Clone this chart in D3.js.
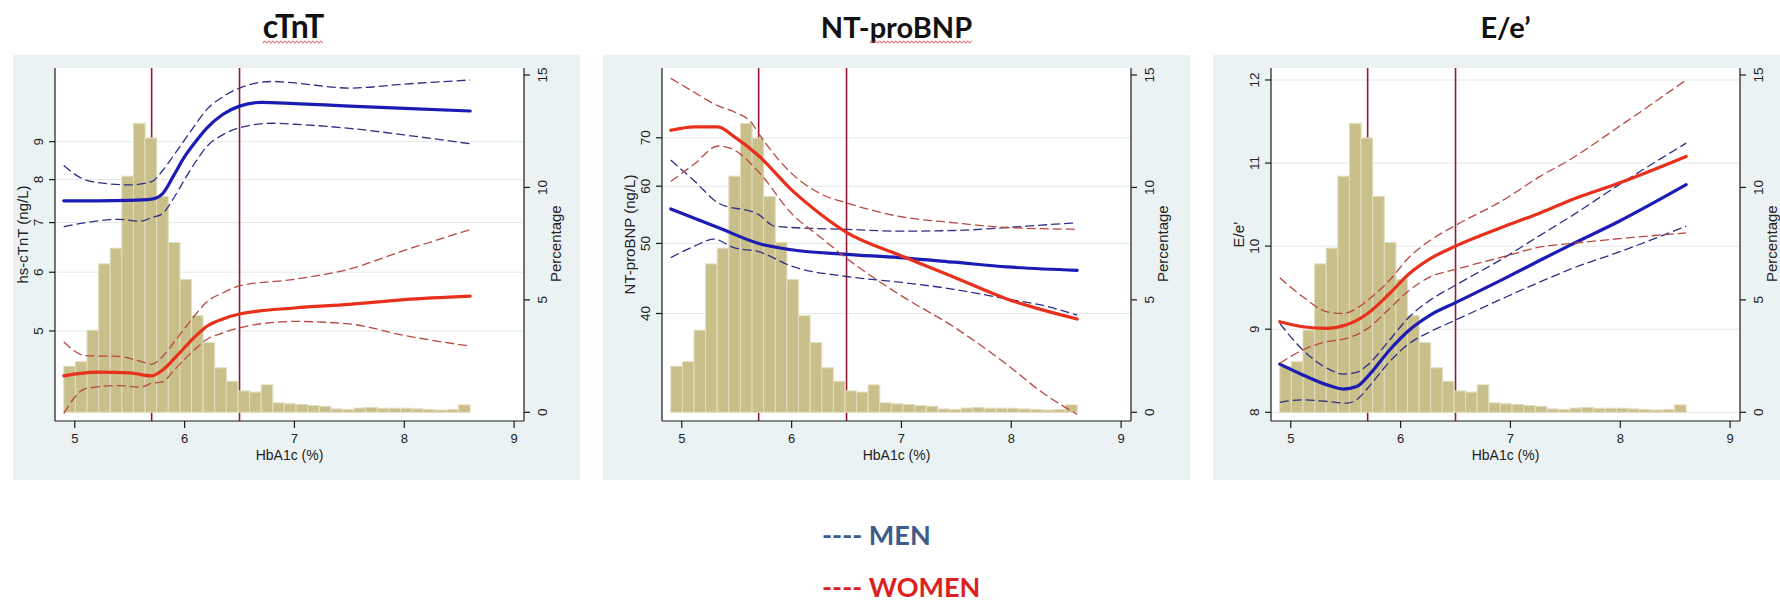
<!DOCTYPE html>
<html>
<head>
<meta charset="utf-8">
<script src="https://cdn.jsdelivr.net/npm/d3@7"></script>
<style>
  html, body { margin: 0; padding: 0; background: #ffffff; }
  svg { display: block; }
</style>
</head>
<body>
<svg id="chart" width="1780" height="606"></svg>
<script>
// ---------------- DATA ----------------
const panelTitles = ["cTnT", "NT-proBNP", "E/e\u2019"];
const yAxisTitles = ["hs-cTnT (ng/L)", "NT-proBNP (ng/L)", "E/e\u2019"];
const xAxisTitle = "HbA1c (%)";
const rightAxisTitle = "Percentage";
const xTicks = [5, 6, 7, 8, 9];
const pctTicks = [0, 5, 10, 15];
const cutoffs = [5.7, 6.5];

const ctntTicks = [5, 6, 7, 8, 9];
const bnpTicks = [40, 50, 60, 70];
const eeTicks = [8, 9, 10, 11, 12];

// HbA1c distribution (percentage per bin), 35 bins from 4.9 to 8.6
const histStart = 4.9, histEnd = 8.6;
const histPct = [2.05, 2.25, 3.65, 6.6, 7.3, 10.5, 12.85, 12.2, 9.6, 7.55, 5.9, 4.3, 3.1, 1.98, 1.38,
  0.95, 0.9, 1.22, 0.42, 0.38, 0.35, 0.3, 0.27, 0.15, 0.12, 0.19, 0.22, 0.18, 0.18, 0.18, 0.15, 0.12, 0.1, 0.12, 0.33];

// cTnT panel
const ctntMenFit = [[4.9,7.49],[5.2,7.49],[5.5,7.5],[5.7,7.53],[5.8,7.66],[5.9,8.1],[6.0,8.59],[6.1,9.0],[6.2,9.38],[6.35,9.8],[6.5,10.05],[6.7,10.17],[7.0,10.13],[7.5,10.05],[8.0,9.98],[8.6,9.9]];
const ctntMenUp = [[4.9,8.36],[5.05,8.05],[5.2,7.93],[5.5,7.87],[5.7,7.95],[5.8,8.23],[5.9,8.62],[6.0,9.05],[6.1,9.5],[6.2,9.94],[6.35,10.35],[6.5,10.63],[6.8,10.85],[7.0,10.8],[7.5,10.63],[8.0,10.76],[8.6,10.9]];
const ctntMenLo = [[4.9,6.91],[5.1,7.0],[5.4,7.07],[5.6,7.03],[5.7,7.11],[5.8,7.2],[5.9,7.55],[6.0,8.0],[6.1,8.45],[6.2,8.86],[6.35,9.2],[6.5,9.4],[6.8,9.53],[7.0,9.5],[7.5,9.38],[8.0,9.19],[8.6,8.94]];
const ctntWomenFit = [[4.9,4.35],[5.2,4.4],[5.5,4.39],[5.7,4.35],[5.8,4.43],[5.9,4.58],[6.0,4.75],[6.1,4.92],[6.2,5.07],[6.35,5.19],[6.5,5.27],[7.0,5.37],[7.5,5.43],[8.0,5.51],[8.6,5.57]];
const ctntWomenUp = [[4.9,4.83],[5.1,4.63],[5.4,4.62],[5.6,4.55],[5.7,4.51],[5.8,4.62],[5.9,4.82],[6.0,5.04],[6.1,5.26],[6.2,5.47],[6.35,5.63],[6.5,5.75],[7.0,5.87],[7.5,6.06],[8.0,6.42],[8.6,6.85]];
const ctntWomenLo = [[4.9,3.87],[5.1,4.18],[5.4,4.22],[5.6,4.2],[5.7,4.25],[5.8,4.27],[5.9,4.42],[6.0,4.58],[6.1,4.73],[6.2,4.87],[6.35,4.97],[6.5,5.05],[7.0,5.15],[7.5,5.11],[8.0,4.93],[8.6,4.77]];

// NT-proBNP panel
const bnpMenFit = [[4.9,55.8],[5.33,52.6],[5.7,50.0],[6.0,49.0],[6.5,48.3],[6.98,47.8],[7.48,47.1],[7.96,46.4],[8.6,45.9]];
const bnpMenUp = [[4.9,65.2],[5.12,60.9],[5.33,56.9],[5.7,54.8],[5.85,52.8],[6.0,52.6],[6.5,52.3],[6.98,52.0],[7.48,52.1],[7.96,52.6],[8.27,53.0],[8.6,53.4]];
const bnpMenLo = [[4.9,47.8],[5.12,49.6],[5.29,50.7],[5.48,49.3],[5.7,48.7],[6.0,46.5],[6.5,45.0],[6.98,44.2],[7.48,43.2],[7.96,41.9],[8.27,41.1],[8.6,39.8]];
const bnpWomenFit = [[4.9,71.7],[5.12,72.5],[5.33,72.5],[5.48,70.2],[5.7,66.1],[6.0,59.3],[6.27,54.8],[6.5,51.8],[6.98,48.2],[7.48,44.9],[7.96,41.9],[8.6,39.3]];
const bnpWomenUp = [[4.9,84.6],[5.12,80.8],[5.33,77.5],[5.48,76.0],[5.64,73.3],[5.7,71.0],[6.0,62.5],[6.27,58.5],[6.5,56.9],[6.98,54.5],[7.48,53.4],[7.96,52.6],[8.6,52.3]];
const bnpWomenLo = [[4.9,60.9],[5.12,64.5],[5.33,68.2],[5.48,67.3],[5.7,62.8],[6.0,55.0],[6.27,50.9],[6.5,47.7],[6.98,42.5],[7.48,38.3],[7.96,34.0],[8.27,31.2],[8.6,29.0]];

// E/e' panel
const eeMenFit = [[4.9,8.58],[5.11,8.45],[5.33,8.33],[5.48,8.28],[5.6,8.31],[5.7,8.43],[5.9,8.75],[6.08,8.99],[6.27,9.17],[6.5,9.32],[6.93,9.6],[7.27,9.83],[7.54,10.01],[7.99,10.3],[8.6,10.74]];
const eeMenUp = [[4.9,9.07],[5.11,8.75],[5.33,8.53],[5.48,8.46],[5.6,8.48],[5.7,8.57],[5.9,8.87],[6.08,9.15],[6.27,9.35],[6.5,9.53],[6.93,9.85],[7.27,10.13],[7.54,10.35],[7.99,10.74],[8.6,11.24]];
const eeMenLo = [[4.9,8.12],[5.11,8.15],[5.33,8.13],[5.51,8.11],[5.6,8.15],[5.7,8.29],[5.9,8.61],[6.08,8.83],[6.27,8.97],[6.5,9.11],[6.93,9.37],[7.27,9.57],[7.54,9.72],[7.99,9.93],[8.6,10.24]];
const eeWomenFit = [[4.9,9.09],[5.11,9.03],[5.33,9.01],[5.5,9.05],[5.7,9.19],[5.9,9.43],[6.08,9.67],[6.27,9.85],[6.5,10.0],[6.93,10.23],[7.27,10.4],[7.54,10.55],[7.99,10.76],[8.6,11.08]];
const eeWomenUp = [[4.9,9.62],[5.11,9.39],[5.33,9.21],[5.48,9.19],[5.6,9.25],[5.7,9.35],[5.9,9.59],[6.08,9.87],[6.27,10.07],[6.5,10.25],[6.93,10.55],[7.27,10.84],[7.54,11.04],[7.99,11.44],[8.6,12.0]];
const eeWomenLo = [[4.9,8.59],[5.11,8.75],[5.33,8.85],[5.51,8.89],[5.7,9.01],[5.9,9.25],[6.08,9.47],[6.27,9.63],[6.5,9.72],[6.93,9.87],[7.27,9.99],[7.54,10.03],[7.99,10.09],[8.6,10.16]];

const legendLabels = ["MEN", "WOMEN"];

// ---------------- LAYOUT / STYLE ----------------
const svg = d3.select("#chart");
const FONT = "'Liberation Sans', Arial, Helvetica, sans-serif";
const TITLEFONT = "Lato, 'Open Sans', sans-serif";
const C = {
  bg: "#eaf2f3", grid: "#e3e9ea", axis: "#1a1a1a", text: "#222",
  bar: "#c9bf8a", barEdge: "#e3ddbf",
  vline: "#8e1b35",
  menFit: "#1c1cb4", menCI: "#2e2e86",
  womenFit: "#e8301c", womenCI: "#b84840",
  legMen: "#3e5b8a", legWomen: "#dc1f1f"
};

const plotTop = 68, axisY = 421, dataBottom = 412.3, dataTop = 75;
const panelW = 469;
const panels = [
  { left: 55, box: [13, 580], yType: "log", yDomain: [3.884, 11.07], yTicks: ctntTicks,
    series: [ctntMenUp, ctntMenLo, ctntMenFit, ctntWomenUp, ctntWomenLo, ctntWomenFit] },
  { left: 662, box: [603, 1190], yType: "log", yDomain: [29.2, 85.5], yTicks: bnpTicks,
    series: [bnpMenUp, bnpMenLo, bnpMenFit, bnpWomenUp, bnpWomenLo, bnpWomenFit] },
  { left: 1271, box: [1213, 1780], yType: "linear", yDomain: [8.0, 12.06], yTicks: eeTicks,
    series: [eeMenUp, eeMenLo, eeMenFit, eeWomenUp, eeWomenLo, eeWomenFit] }
];
const seriesStyle = [
  { color: C.menCI, w: 1.3, dash: "9,4" },
  { color: C.menCI, w: 1.3, dash: "9,4" },
  { color: C.menFit, w: 3.2, dash: null },
  { color: C.womenCI, w: 1.3, dash: "9,4" },
  { color: C.womenCI, w: 1.3, dash: "9,4" },
  { color: C.womenFit, w: 3.2, dash: null }
];

const nBins = histPct.length;
const binW = (histEnd - histStart) / nBins;
const binEdges = histPct.map((_, i) => histStart + i * binW);

panels.forEach((p, pi) => {
  const right = p.left + panelW;
  const g = svg.append("g");

  // panel background
  g.append("rect").attr("x", p.box[0]).attr("y", 55)
    .attr("width", p.box[1] - p.box[0]).attr("height", 425).attr("fill", C.bg);
  // plot region
  g.append("rect").attr("x", p.left).attr("y", plotTop)
    .attr("width", panelW).attr("height", axisY - plotTop).attr("fill", "#fff");

  const x = d3.scaleLinear().domain([4.82, 9.09]).range([p.left, right]);
  const y = (p.yType === "log" ? d3.scaleLog() : d3.scaleLinear())
    .domain(p.yDomain).range([dataBottom, dataTop]);
  const yPct = d3.scaleLinear().domain([0, 15]).range([dataBottom, dataTop]);

  // grid
  g.append("g").selectAll("line").data(p.yTicks).join("line")
    .attr("x1", p.left).attr("x2", right)
    .attr("y1", d => y(d)).attr("y2", d => y(d))
    .attr("stroke", C.grid).attr("stroke-width", 1);

  // cutoff lines
  g.append("g").selectAll("line").data(cutoffs).join("line")
    .attr("x1", d => x(d)).attr("x2", d => x(d))
    .attr("y1", plotTop).attr("y2", axisY)
    .attr("stroke", C.vline).attr("stroke-width", 1.6);

  // histogram
  g.append("g").selectAll("rect").data(histPct).join("rect")
    .attr("x", (d, i) => x(binEdges[i]))
    .attr("width", (d, i) => x(binEdges[i] + binW) - x(binEdges[i]))
    .attr("y", d => yPct(d))
    .attr("height", d => yPct(0) - yPct(d))
    .attr("fill", C.bar).attr("stroke", C.barEdge).attr("stroke-width", 1);

  // curves
  const line = d3.line().x(d => x(d[0])).y(d => y(d[1])).curve(d3.curveMonotoneX);
  p.series.forEach((s, si) => {
    const st = seriesStyle[si];
    g.append("path").datum(s).attr("d", line)
      .attr("fill", "none").attr("stroke", st.color)
      .attr("stroke-width", st.w)
      .attr("stroke-dasharray", st.dash)
      .attr("stroke-linecap", st.dash ? "butt" : "round")
      .attr("stroke-linejoin", "round");
  });

  // axes lines
  const ax = g.append("g").attr("stroke", C.axis).attr("stroke-width", 1.2);
  ax.append("line").attr("x1", p.left).attr("x2", p.left).attr("y1", plotTop).attr("y2", axisY);
  ax.append("line").attr("x1", right).attr("x2", right).attr("y1", plotTop).attr("y2", axisY);
  ax.append("line").attr("x1", p.left).attr("x2", right).attr("y1", axisY).attr("y2", axisY);

  // left y ticks
  g.append("g").selectAll("line").data(p.yTicks).join("line")
    .attr("x1", p.left - 6).attr("x2", p.left).attr("y1", d => y(d)).attr("y2", d => y(d))
    .attr("stroke", C.axis).attr("stroke-width", 1.2);
  g.append("g").selectAll("text").data(p.yTicks).join("text")
    .attr("transform", d => `translate(${p.left - 17},${y(d)}) rotate(-90)`)
    .attr("text-anchor", "middle").attr("dy", "0.35em")
    .attr("font-family", FONT).attr("font-size", 13.5).attr("fill", C.text)
    .text(d => d);
  g.append("text")
    .attr("transform", `translate(${p.left - 32},${(plotTop + axisY) / 2 - 10}) rotate(-90)`)
    .attr("text-anchor", "middle").attr("dy", "0.35em")
    .attr("font-family", FONT).attr("font-size", 15).attr("fill", C.text)
    .text(yAxisTitles[pi]);

  // right percentage axis
  g.append("g").selectAll("line").data(pctTicks).join("line")
    .attr("x1", right).attr("x2", right + 6).attr("y1", d => yPct(d)).attr("y2", d => yPct(d))
    .attr("stroke", C.axis).attr("stroke-width", 1.2);
  g.append("g").selectAll("text").data(pctTicks).join("text")
    .attr("transform", d => `translate(${right + 18},${yPct(d)}) rotate(-90)`)
    .attr("text-anchor", "middle").attr("dy", "0.35em")
    .attr("font-family", FONT).attr("font-size", 13.5).attr("fill", C.text)
    .text(d => d);
  g.append("text")
    .attr("transform", `translate(${right + 32},${(dataTop + dataBottom) / 2}) rotate(-90)`)
    .attr("text-anchor", "middle").attr("dy", "0.35em")
    .attr("font-family", FONT).attr("font-size", 15).attr("fill", C.text)
    .text(rightAxisTitle);

  // x axis ticks
  g.append("g").selectAll("line").data(xTicks).join("line")
    .attr("x1", d => x(d)).attr("x2", d => x(d)).attr("y1", axisY).attr("y2", axisY + 7)
    .attr("stroke", C.axis).attr("stroke-width", 1.2);
  g.append("g").selectAll("text").data(xTicks).join("text")
    .attr("x", d => x(d)).attr("y", 443)
    .attr("text-anchor", "middle")
    .attr("font-family", FONT).attr("font-size", 13).attr("fill", C.text)
    .text(d => d);
  g.append("text")
    .attr("x", (p.left + right) / 2).attr("y", 460)
    .attr("text-anchor", "middle")
    .attr("font-family", FONT).attr("font-size", 14).attr("fill", C.text)
    .text(xAxisTitle);

  // panel title
  const cx = (p.left + right) / 2 + (pi === 0 ? 4 : 0);
  const t = svg.append("text")
    .attr("x", cx).attr("y", 38)
    .attr("text-anchor", "middle")
    .attr("font-family", TITLEFONT).attr("font-weight", 700)
    .attr("font-size", pi === 0 ? 32 : 29)
    .attr("fill", "#111")
    .text(panelTitles[pi]);

  // spell-check style wavy underline (cTnT and proBNP)
  if (pi < 2) {
    const node = t.node();
    const startChar = pi === 0 ? 0 : 3;
    const n = node.getNumberOfChars();
    const x0 = node.getStartPositionOfChar(startChar).x;
    const x1 = node.getEndPositionOfChar(n - 1).x;
    const pts = d3.range(x0, x1, 2).map((v, k) => [v, 42 + (k % 2 ? -1.2 : 1.2)]);
    svg.append("path").attr("d", d3.line()(pts))
      .attr("fill", "none").attr("stroke", "#d04040").attr("stroke-width", 0.9);
  }
});

// legend
const legend = svg.append("g").attr("font-family", TITLEFONT).attr("font-weight", 700).attr("font-size", 27);
legend.append("text").attr("x", 822).attr("y", 545).attr("fill", C.legMen).text("---- " + legendLabels[0]);
legend.append("text").attr("x", 822).attr("y", 597).attr("fill", C.legWomen).text("---- " + legendLabels[1]);
</script>
</body>
</html>
